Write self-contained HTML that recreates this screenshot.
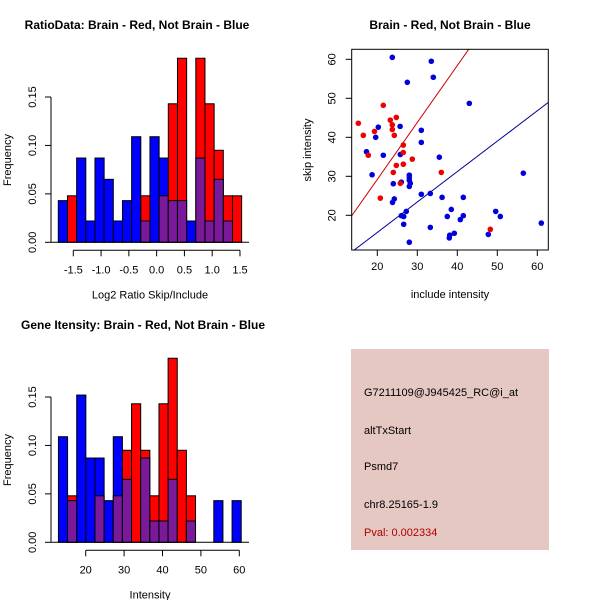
<!DOCTYPE html>
<html><head><meta charset="utf-8"><style>
body{margin:0;background:#fff}
svg{display:block;font-family:"Liberation Sans",sans-serif}
</style></head><body>
<svg id="s" width="600" height="600" viewBox="0 0 600 600">
<text x="137" y="29" font-size="12" font-weight="bold" text-anchor="middle">RatioData: Brain - Red, Not Brain - Blue</text>
<text x="450" y="29" font-size="12" font-weight="bold" text-anchor="middle">Brain - Red, Not Brain - Blue</text>
<text x="143" y="329" font-size="12" font-weight="bold" text-anchor="middle">Gene Itensity: Brain - Red, Not Brain - Blue</text>
<g>
<rect x="351" y="349" width="198" height="201" fill="#e5c8c2"/>
<g font-size="11" fill="#000">
<text x="364" y="396">G7211109@J945425_RC@i_at</text>
<text x="364" y="434">altTxStart</text>
<text x="364" y="470">Psmd7</text>
<text x="364" y="508">chr8.25165-1.9</text>
<text x="364" y="536" fill="#b00000">Pval: 0.002334</text>
</g></g>
</svg>
<script>
// Ratio histogram data
const ratioStart=-1.77, ratioStep=0.165;
const ratioBlue=[0.043,0,0.087,0.022,0.087,0.065,0.022,0.043,0.109,0.022,0.109,0.087,0.043,0.043,0.022,0.087,0.022,0.065,0.022,0];
const ratioRed=[0,0.048,0,0,0,0,0,0,0,0.048,0,0.048,0.143,0.19,0,0.19,0.143,0.095,0.048,0.048];
const ratioXTicks=[-1.5,-1.0,-0.5,0.0,0.5,1.0,1.5];
const ratioXLabels=["-1.5","-1.0","-0.5","0.0","0.5","1.0","1.5"];
const freqTicks=[0,0.05,0.10,0.15];
const freqLabels=["0.00","0.05","0.10","0.15"];
// Intensity histogram data
const intStart=12.9, intStep=2.38;
const intBlue=[0.109,0.043,0.152,0.087,0.087,0.043,0.109,0.065,0,0.087,0.022,0.022,0.065,0,0.022,0,0,0.043,0,0.043];
const intRed=[0,0.048,0,0,0.048,0,0.048,0.095,0.143,0.095,0.048,0.143,0.19,0.095,0.048,0,0,0,0,0];
const intXTicks=[20,30,40,50,60];
// Scatter data
const blueX=[23.75,33.5,34,27.5,43,25.7,20.25,31,19.6,31,17.3,21.5,25.75,35.5,18.7,28,28,28,28.25,26,24,28,31,33.25,36.2,41.5,24.25,23.8,27.25,37.5,41.5,40.75,49.6,50.75,26,26.6,26.6,33.25,38.5,38.1,38,39.25,47.75,56.5,61,28];
const blueY=[60.5,59.5,55.4,54.1,48.7,42.8,42.6,41.8,40,38.7,36.3,35.4,35.6,34.9,30.4,30.3,29.7,29,28.2,28.5,28.1,27.4,25.4,25.6,24.6,24.6,24.2,23.3,21,19.7,19.9,18.9,21,19.7,19.9,19.7,17.7,16.9,21.5,14.9,14.2,15.4,15.1,30.8,18,13.1];
const redX=[15.25,16.5,21.5,19.3,17.75,23.25,24.75,23.75,23.75,24.25,26.5,26.5,28.75,24.75,26.5,24,36,25.75,20.75,48.25];
const redY=[43.6,40.5,48.2,41.5,35.4,44.4,45.1,43.2,42,40.5,38,36.1,34.4,32.8,33.1,31,31,28.2,24.4,16.4];
const redSlope=1.46, blueSlope=0.78;
const scXTicks=[20,30,40,50,60], scYTicks=[20,30,40,50,60];

const NS="http://www.w3.org/2000/svg", svg=document.getElementById('s');
function mk(tag,attrs,parent){const e=document.createElementNS(NS,tag);for(const k in attrs)e.setAttribute(k,attrs[k]);(parent||svg).appendChild(e);return e;}
const PURPLE="#7a1a9a";

function hist(g,start,step,blue,red,xs,ys,xTicks,xLabels,xTitle,y0){
  const n=blue.length;
  for(let i=0;i<n;i++){
    const x0=xs(start+i*step), x1=xs(start+(i+1)*step);
    const b=blue[i], r=red[i], hi=Math.max(b,r), lo=Math.min(b,r);
    if(hi>0){
      const bar=mk('rect',{x:x0,y:ys(hi),width:x1-x0,height:ys(0)-ys(hi),fill:b>=r?'#0000ff':'#ff0000',stroke:'#000','stroke-width':1},g);
      
      
    }
    if(lo>0){
      const ov=mk('rect',{x:x0,y:ys(lo),width:x1-x0,height:ys(0)-ys(lo),fill:PURPLE,stroke:'#000','stroke-width':1},g);
      
      
    }
  }
  const ya=mk('g',{},g);
  
  
  mk('line',{x1:51,x2:51,y1:ys(0),y2:ys(0.15),stroke:'#000'},ya);
  freqTicks.forEach((t,i)=>{const y=ys(t);mk('line',{x1:45,x2:51,y1:y,y2:y,stroke:'#000'},ya);
    const tx=mk('text',{x:36,y:y,'font-size':11,'text-anchor':'middle',transform:`rotate(-90 36 ${y})`},ya);tx.textContent=freqLabels[i];});
  const yt=mk('text',{x:11,y:ys(0.085),'font-size':11,'text-anchor':'middle',transform:`rotate(-90 11 ${ys(0.085)})`},g);
  yt.textContent='Frequency';
  
  
  mk('line',{x1:51,x2:249,y1:ys(0),y2:ys(0),stroke:'#000'},g);
  const xa=mk('g',{},g);
  
  
  const ay=y0+8;
  mk('line',{x1:xs(xTicks[0]),x2:xs(xTicks[xTicks.length-1]),y1:ay,y2:ay,stroke:'#000'},xa);
  xTicks.forEach((t,i)=>{const x=xs(t);mk('line',{x1:x,x2:x,y1:ay,y2:ay+6,stroke:'#000'},xa);
    const tx=mk('text',{x:x,y:ay+23,'font-size':11,'text-anchor':'middle'},xa);tx.textContent=xLabels[i];});
  const xt=mk('text',{x:150,y:ay+48,'font-size':11,'text-anchor':'middle'},g);
  xt.textContent=xTitle;
  
  
}
const g1=mk('g',{});


hist(g1,ratioStart,ratioStep,ratioBlue,ratioRed,v=>73.3+(v+1.5)*55.56,v=>242.3-v*968.7,ratioXTicks,ratioXLabels,'Log2 Ratio Skip/Include',242.3);
const g2=mk('g',{});


hist(g2,intStart,intStep,intBlue,intRed,v=>85.7+(v-20)*3.84,v=>542.3-v*968.7,intXTicks,intXTicks.map(String),'Intensity',542.3);

const g3=mk('g',{});


const L=351.7,R=548.3,T=49.3,B=250;
const sx=v=>297.3+v*4, sy=v=>293.3-v*3.9;
const xmin=(L-297.3)/4, xmax=(R-297.3)/4;
const clip=mk('clipPath',{id:'cp'},g3);mk('rect',{x:L,y:T,width:R-L,height:B-T},clip);
[[redSlope,'#cc0000','red-fit-line'],[blueSlope,'#000099','blue-fit-line']].forEach(([m,c,nm])=>{
  const ln=mk('line',{x1:sx(xmin),y1:sy(m*xmin),x2:sx(xmax),y2:sy(m*xmax),stroke:c,'stroke-width':1,'clip-path':'url(#cp)'},g3);
  
  
});
blueX.forEach((x,i)=>{const p=mk('circle',{cx:sx(x),cy:sy(blueY[i]),r:2.8,fill:'#0000dd'},g3);
  
  });
redX.forEach((x,i)=>{const p=mk('circle',{cx:sx(x),cy:sy(redY[i]),r:2.8,fill:'#ee0000'},g3);
  
  });
mk('rect',{x:L,y:T,width:R-L,height:B-T,fill:'none',stroke:'#000'},g3);
scXTicks.forEach(t=>{const x=sx(t);mk('line',{x1:x,x2:x,y1:B,y2:B+6,stroke:'#000'},g3);
  const tx=mk('text',{x:x,y:B+20,'font-size':11,'text-anchor':'middle'},g3);tx.textContent=t;});
scYTicks.forEach(t=>{const y=sy(t);mk('line',{x1:L-6,x2:L,y1:y,y2:y,stroke:'#000'},g3);
  const tx=mk('text',{x:L-16,y:y,'font-size':11,'text-anchor':'middle',transform:`rotate(-90 ${L-16} ${y})`},g3);tx.textContent=t;});
const sxt=mk('text',{x:450,y:298,'font-size':11,'text-anchor':'middle'},g3);sxt.textContent='include intensity';


const syt=mk('text',{x:311,y:150,'font-size':11,'text-anchor':'middle',transform:'rotate(-90 311 150)'},g3);syt.textContent='skip intensity';


</script>
</body></html>
